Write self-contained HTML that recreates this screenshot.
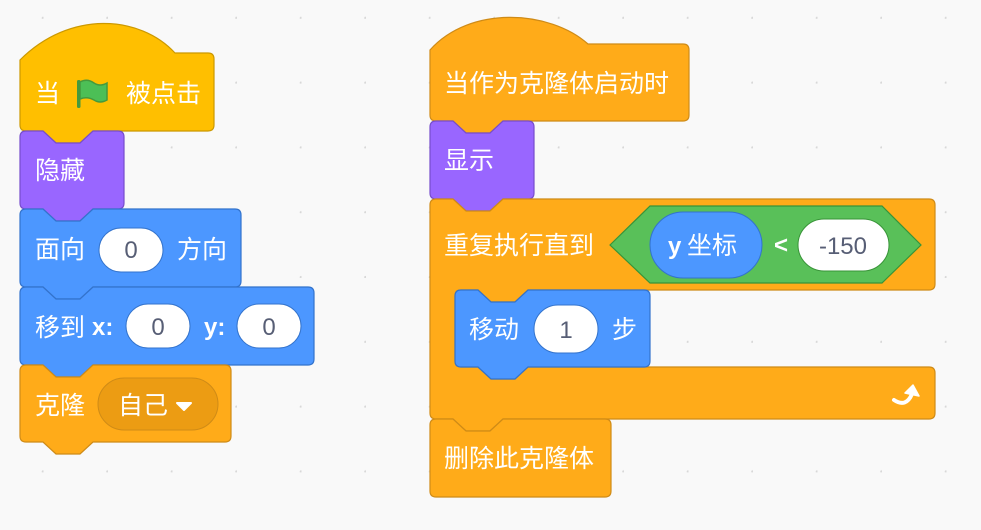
<!DOCTYPE html>
<html><head><meta charset="utf-8"><style>
html,body{margin:0;padding:0;background:#f9f9f9;}
svg{display:block}
text{font-family:"Liberation Sans","Noto Sans CJK SC",sans-serif;}
.w{fill:#fff;font-size:25px;}
.n{fill:#575E75;font-size:24px;text-anchor:middle;}
.b{fill:#fff;font-size:24px;font-weight:bold;}
</style></head><body>
<svg width="981" height="530" viewBox="0 0 981 530" xmlns="http://www.w3.org/2000/svg">
<defs><pattern id="dots" x="-21" y="-46" width="64.5" height="64.8" patternUnits="userSpaceOnUse"><circle cx="64" cy="64" r="1.3" fill="#d8d8d8"/></pattern></defs>
<rect width="981" height="530" fill="#f9f9f9"/>
<rect width="981" height="530" fill="url(#dots)"/>

<!-- left stack -->
<path d="M 20 60 C 70 10 140 15 175 53 L 208 53 Q 214 53 214 59 L 214 125 Q 214 131 208 131 L 93 131 L 80 143 L 56 143 L 43 131 L 26 131 Q 20 131 20 125 Z" fill="#FFBF00" stroke="#CC9900" stroke-width="1.2"/>
<path d="M 20 137 Q 20 131 26 131 L 43 131 L 56 143 L 80 143 L 93 131 L 118 131 Q 124 131 124 137 L 124 203 Q 124 209 118 209 L 93 209 L 80 221 L 56 221 L 43 209 L 26 209 Q 20 209 20 203 Z" fill="#9966FF" stroke="#774DCB" stroke-width="1.2"/>
<path d="M 20 215 Q 20 209 26 209 L 43 209 L 56 221 L 80 221 L 93 209 L 235 209 Q 241 209 241 215 L 241 281 Q 241 287 235 287 L 93 287 L 80 299 L 56 299 L 43 287 L 26 287 Q 20 287 20 281 Z" fill="#4C97FF" stroke="#3373CC" stroke-width="1.2"/>
<path d="M 20 293 Q 20 287 26 287 L 43 287 L 56 299 L 80 299 L 93 287 L 308 287 Q 314 287 314 293 L 314 359 Q 314 365 308 365 L 93 365 L 80 377 L 56 377 L 43 365 L 26 365 Q 20 365 20 359 Z" fill="#4C97FF" stroke="#3373CC" stroke-width="1.2"/>
<path d="M 20 371 Q 20 365 26 365 L 43 365 L 56 377 L 80 377 L 93 365 L 225 365 Q 231 365 231 371 L 231 436 Q 231 442 225 442 L 93 442 L 80 454 L 56 454 L 43 442 L 26 442 Q 20 442 20 436 Z" fill="#FFAB19" stroke="#CF8B17" stroke-width="1.2"/>

<text class="w" x="35" y="102">当</text>
<g>
<rect x="77" y="80" width="3.5" height="28" rx="1.5" fill="#45993d"/>
<path d="M 80 82 Q 87 78 94 83 Q 100 87 107 83 L 107 100 Q 100 104 94 100 Q 87 96 80 99 Z" fill="#4CBF56" stroke="#45993d" stroke-width="1.5"/>
</g>
<text class="w" x="126" y="102">被点击</text>
<text class="w" x="35" y="179">隐藏</text>
<text class="w" x="35" y="258">面向</text>
<rect x="99" y="228" width="64" height="44" rx="22" fill="#fff" stroke="#3373CC" stroke-width="1"/>
<text class="n" x="131" y="258">0</text>
<text class="w" x="177" y="258">方向</text>
<text class="w" x="35" y="336">移到</text>
<text class="b" x="92" y="335">x:</text>
<rect x="126" y="304" width="64" height="44" rx="22" fill="#fff" stroke="#3373CC" stroke-width="1"/>
<text class="n" x="158" y="335">0</text>
<text class="b" x="204" y="335">y:</text>
<rect x="237" y="304" width="64" height="44" rx="22" fill="#fff" stroke="#3373CC" stroke-width="1"/>
<text class="n" x="269" y="335">0</text>
<text class="w" x="35" y="414">克隆</text>
<rect x="98" y="378" width="120" height="52" rx="26" fill="#EC9C13" stroke="#CF8B17" stroke-width="1"/>
<text class="w" x="118" y="414">自己</text>
<path d="M 177 403 L 191 403 L 184 410 Z" fill="#fff" stroke="#fff" stroke-width="2" stroke-linejoin="round"/>

<!-- right stack -->
<path d="M 430 50 C 470 5 550 10 588 44 L 683 44 Q 689 44 689 50 L 689 115 Q 689 121 683 121 L 503 121 L 490 133 L 466 133 L 453 121 L 436 121 Q 430 121 430 115 Z" fill="#FFAB19" stroke="#CF8B17" stroke-width="1.2"/>
<path d="M 430 127 Q 430 121 436 121 L 453 121 L 466 133 L 490 133 L 503 121 L 528 121 Q 534 121 534 127 L 534 193 Q 534 199 528 199 L 503 199 L 490 211 L 466 211 L 453 199 L 436 199 Q 430 199 430 193 Z" fill="#9966FF" stroke="#774DCB" stroke-width="1.2"/>
<path d="M 430 205 Q 430 199 436 199 L 453 199 L 466 211 L 490 211 L 503 199 L 929 199 Q 935 199 935 205 L 935 284 Q 935 290 929 290 L 528 290 L 515 302 L 491 302 L 478 290 L 461 290 Q 455 290 455 296 L 455 361 Q 455 367 461 367 L 478 367 L 491 379 L 515 379 L 528 367 L 929 367 Q 935 367 935 373 L 935 413 Q 935 419 929 419 L 503 419 L 490 431 L 466 431 L 453 419 L 436 419 Q 430 419 430 413 Z" fill="#FFAB19" stroke="#CF8B17" stroke-width="1.2"/>
<path d="M 455 296 Q 455 290 461 290 L 478 290 L 491 302 L 515 302 L 528 290 L 644 290 Q 650 290 650 296 L 650 361 Q 650 367 644 367 L 528 367 L 515 379 L 491 379 L 478 367 L 461 367 Q 455 367 455 361 Z" fill="#4C97FF" stroke="#3373CC" stroke-width="1.2"/>
<path d="M 430 425 Q 430 419 436 419 L 453 419 L 466 431 L 490 431 L 503 419 L 605 419 Q 611 419 611 425 L 611 491 Q 611 497 605 497 L 436 497 Q 430 497 430 491 Z" fill="#FFAB19" stroke="#CF8B17" stroke-width="1.2"/>

<text class="w" x="444" y="92">当作为克隆体启动时</text>
<text class="w" x="444" y="169">显示</text>
<text class="w" x="444" y="254">重复执行直到</text>
<path d="M 610 245 L 650 206 L 882 206 L 921 245 L 882 283 L 650 283 Z" fill="#59C059" stroke="#389438" stroke-width="1.2"/>
<rect x="650" y="212" width="112" height="66" rx="33" fill="#4C97FF" stroke="#3373CC" stroke-width="1"/>
<text class="b" x="668" y="254">y</text>
<text class="w" x="687" y="254">坐标</text>
<text class="b" x="774" y="253">&lt;</text>
<rect x="798" y="219" width="91" height="52" rx="26" fill="#fff" stroke="#389438" stroke-width="1"/>
<text class="n" x="843" y="254">-150</text>
<text class="w" x="469" y="338">移动</text>
<rect x="534" y="305" width="64" height="48" rx="24" fill="#fff" stroke="#3373CC" stroke-width="1"/>
<text class="n" x="566" y="338">1</text>
<text class="w" x="612" y="338">步</text>
<path d="M 894 400 Q 906 408 912 394" fill="none" stroke="#fff" stroke-width="4" stroke-linecap="round"/>
<path d="M 905 393 L 913 385 L 919 396 Z" fill="#fff" stroke="#fff" stroke-width="1.5" stroke-linejoin="round"/>
<text class="w" x="444" y="467">删除此克隆体</text>
</svg>
</body></html>
